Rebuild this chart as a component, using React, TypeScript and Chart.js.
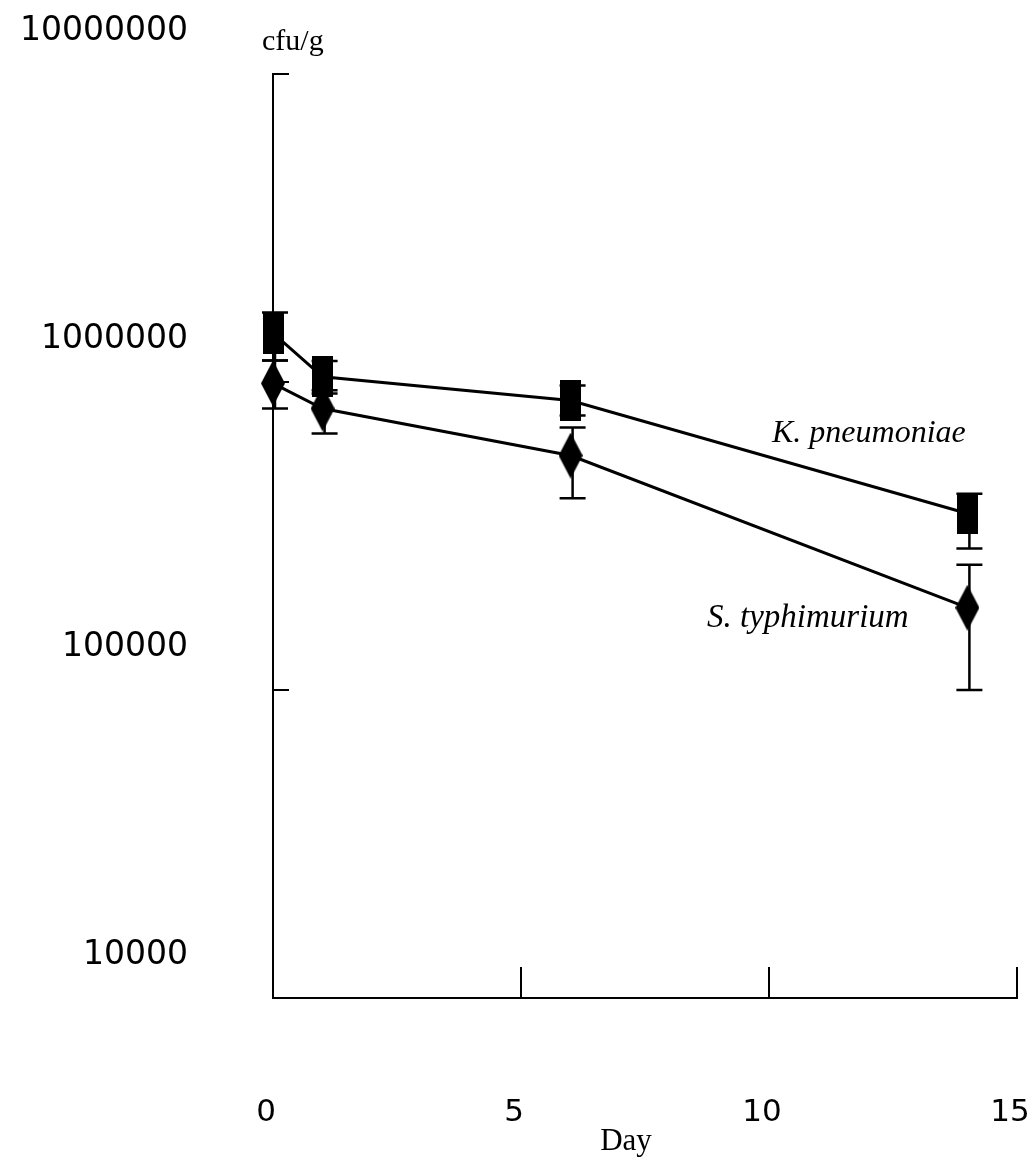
import React, { useEffect, useRef } from "react";
import { Chart, registerables } from "chart.js";

Chart.register(...registerables);

// ---- data ----
const days = [0, 1, 6, 14];
const seriesNames = ["K. pneumoniae", "S. typhimurium"];
const kpMean = [1440000, 1040000, 871000, 374000];
const kpLow = [1175000, 918000, 779000, 288000];
const kpHigh = [1680000, 1170000, 975000, 434000];
const stMean = [990000, 820000, 577000, 185000];
const stLow = [820000, 681000, 419000, 100000];
const stHigh = [1175000, 940000, 711000, 255000];

const yTickValues = [10000, 100000, 1000000, 10000000];
const yTickLabels = ["10000", "100000", "1000000", "10000000"];
const xTickValues = [0, 5, 10, 15];
const xTickLabels = ["0", "5", "10", "15"];
const yUnit = "cfu/g";
const xTitle = "Day";

function makeRect(w: number, h: number) {
  const c = document.createElement("canvas");
  c.width = w;
  c.height = h;
  const g = c.getContext("2d")!;
  g.fillStyle = "#000";
  g.fillRect(0, 0, w, h);
  return c;
}

function makeDiamond(w: number, h: number) {
  const c = document.createElement("canvas");
  c.width = w;
  c.height = h;
  const g = c.getContext("2d")!;
  g.fillStyle = "#000";
  g.beginPath();
  g.moveTo(w / 2, 0);
  g.lineTo(w, h / 2);
  g.lineTo(w / 2, h);
  g.lineTo(0, h / 2);
  g.closePath();
  g.fill();
  return c;
}

const errorBars = [
  { low: kpLow, high: kpHigh },
  { low: stLow, high: stHigh },
];

const decorPlugin = {
  id: "decor",
  afterDatasetsDraw(chart: any) {
    const { ctx, scales } = chart;
    const x = scales.x;
    const y = scales.y;
    ctx.save();
    ctx.strokeStyle = "#000";
    ctx.lineWidth = 2.5;
    errorBars.forEach((eb) => {
      days.forEach((d, i) => {
        const px = x.getPixelForValue(d) + 2;
        const pl = y.getPixelForValue(eb.low[i]);
        const ph = y.getPixelForValue(eb.high[i]);
        ctx.beginPath();
        ctx.moveTo(px, pl);
        ctx.lineTo(px, ph);
        ctx.moveTo(px - 13, pl);
        ctx.lineTo(px + 13, pl);
        ctx.moveTo(px - 13, ph);
        ctx.lineTo(px + 13, ph);
        ctx.stroke();
      });
    });
    ctx.restore();
  },
  afterDraw(chart: any) {
    const { ctx, scales, chartArea } = chart;
    const x = scales.x;
    const y = scales.y;
    ctx.save();
    ctx.strokeStyle = "#000";
    ctx.lineWidth = 2;
    yTickValues.forEach((v) => {
      const py = y.getPixelForValue(v);
      ctx.beginPath();
      ctx.moveTo(chartArea.left, py);
      ctx.lineTo(chartArea.left + 16, py);
      ctx.stroke();
    });
    xTickValues.forEach((v) => {
      const px = x.getPixelForValue(v);
      ctx.beginPath();
      ctx.moveTo(px, chartArea.bottom);
      ctx.lineTo(px, chartArea.bottom - 31);
      ctx.stroke();
    });
    ctx.fillStyle = "#000";
    ctx.textBaseline = "alphabetic";
    ctx.textAlign = "left";
    ctx.font = "30px 'Liberation Serif'";
    ctx.fillText(yUnit, 262, 50);
    ctx.font = "italic 32px 'Liberation Serif'";
    ctx.fillText(seriesNames[0], 772, 442);
    ctx.font = "italic 33px 'Liberation Serif'";
    ctx.fillText(seriesNames[1], 707, 627);
    ctx.textAlign = "center";
    ctx.font = "31px 'Liberation Serif'";
    ctx.fillText(xTitle, 626, 1150);
    ctx.restore();
  },
};

export default function App() {
  const ref = useRef<HTMLCanvasElement>(null);

  useEffect(() => {
    if (!ref.current) return;
    const rect = makeRect(21, 41);
    const diamond = makeDiamond(24, 46);
    const chart = new Chart(ref.current, {
      type: "line",
      data: {
        datasets: [
          {
            label: seriesNames[0],
            data: days.map((d, i) => ({ x: d, y: kpMean[i] })),
            borderColor: "#000",
            backgroundColor: "#000",
            borderWidth: 3,
            pointStyle: rect as any,
            pointRadius: 10,
            tension: 0,
          },
          {
            label: seriesNames[1],
            data: days.map((d, i) => ({ x: d, y: stMean[i] })),
            borderColor: "#000",
            backgroundColor: "#000",
            borderWidth: 3,
            pointStyle: diamond as any,
            pointRadius: 10,
            tension: 0,
          },
        ],
      },
      options: {
        responsive: false,
        maintainAspectRatio: false,
        animation: false,
        clip: false as any,
        layout: { padding: { top: 74, right: 18, left: 0, bottom: 0 } },
        plugins: {
          legend: { display: false },
          tooltip: { enabled: false },
          title: { display: false },
        },
        scales: {
          x: {
            type: "linear",
            min: 0,
            max: 15,
            grid: { display: false, drawTicks: false },
            border: { display: true, color: "#000", width: 2 },
            ticks: {
              stepSize: 5,
              padding: 96,
              labelOffset: -7,
              color: "#000",
              font: { family: "'DejaVu Sans'", size: 31 },
              maxRotation: 0,
              autoSkip: false,
              callback: (v: any) => {
                const i = xTickValues.indexOf(Number(v));
                return i >= 0 ? xTickLabels[i] : "";
              },
            },
            afterFit: (s: any) => {
              s.height = 162;
              s.paddingLeft = 0;
              s.paddingRight = 0;
            },
          },
          y: {
            type: "logarithmic",
            min: 10000,
            max: 10000000,
            grid: { display: false, drawTicks: false },
            border: { display: true, color: "#000", width: 2 },
            afterBuildTicks: (s: any) => {
              s.ticks = yTickValues.map((v) => ({ value: v, major: true }));
            },
            ticks: {
              padding: 85,
              labelOffset: -43,
              color: "#000",
              font: { family: "'DejaVu Sans'", size: 33 },
              autoSkip: false,
              callback: (v: any) => {
                const i = yTickValues.indexOf(Number(v));
                return i >= 0 ? yTickLabels[i] : "";
              },
            },
            afterFit: (s: any) => {
              s.width = 273;
              s.paddingTop = 0;
              s.paddingBottom = 0;
            },
          },
        },
      },
      plugins: [decorPlugin],
    });
    return () => chart.destroy();
  }, []);

  return (
    <div
      style={{
        position: "fixed",
        left: 0,
        top: 0,
        width: 1035,
        height: 1160,
        background: "#fff",
      }}
    >
      <canvas ref={ref} width={1035} height={1160} style={{ display: "block" }} />
    </div>
  );
}
